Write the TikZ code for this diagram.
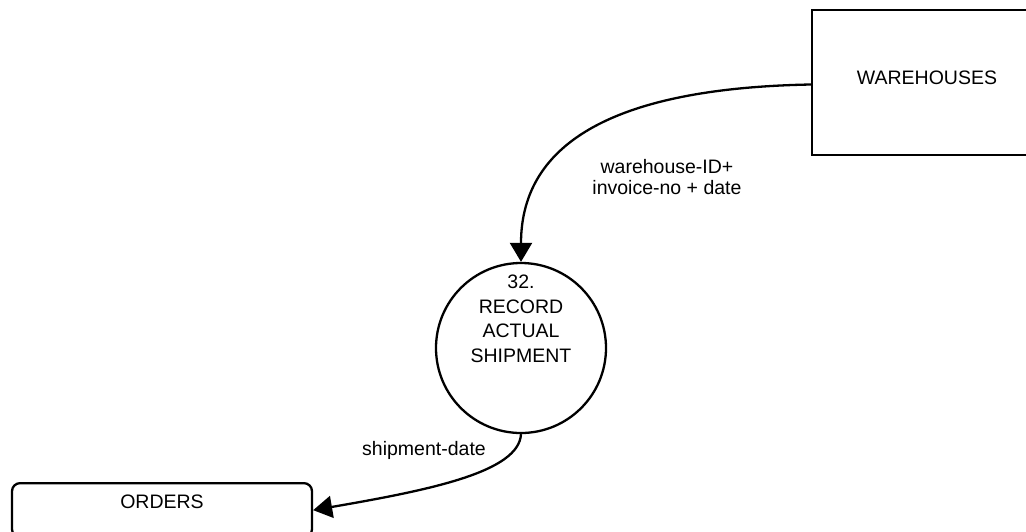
\documentclass[tikz,border=0pt]{standalone}
\usepackage{fontspec}
\setmainfont{Liberation Sans}
\usetikzlibrary{arrows.meta,calc}
\tikzset{
  flow/.style={line width=2.3pt, -{Triangle[length=19pt,width=22pt]}},
  extbox/.style={draw, line width=2.3pt, rectangle, minimum width=230pt, minimum height=145pt, inner sep=0pt, text height=14pt, text depth=10pt},
  storebox/.style={draw, line width=2.3pt, rectangle, rounded corners=8pt, minimum width=300pt, inner xsep=0pt, inner ysep=0pt, text height=25pt, text depth=29pt},
  procbox/.style={draw, line width=2.3pt, circle, minimum size=170pt, inner sep=0pt},
  lbl/.style={font=\fontsize{19.5}{21.5}\selectfont, align=center, inner sep=0pt},
}
\begin{document}
\begin{tikzpicture}[x=1pt, y=-1pt, font=\fontsize{19.5}{21.5}\selectfont]
\useasboundingbox (0,0) rectangle (1026,531);
\clip (0,0) rectangle (1026,531);
\node[extbox] (wh) at (927,82.5) {WAREHOUSES};
\node[procbox, label={[lbl, font=\fontsize{19.5}{24.5}\selectfont, yshift=29pt]center:32.\\RECORD\\ACTUAL\\SHIPMENT}] (p) at (521,348) {};
\node[storebox, anchor=north] (ord) at (162,482) {ORDERS};
\draw[flow] ([yshift=-2pt]wh.west) .. controls (620,88) and (521,140) .. (p.north);
\draw[flow] (p.south) .. controls (519,472) and (430,490) .. (ord.east);
\node[lbl] (l1) at (667,177) {warehouse-ID+\\invoice-no + date};
\node[lbl] (l2) at (424,450) {shipment-date};
\end{tikzpicture}
\end{document}
